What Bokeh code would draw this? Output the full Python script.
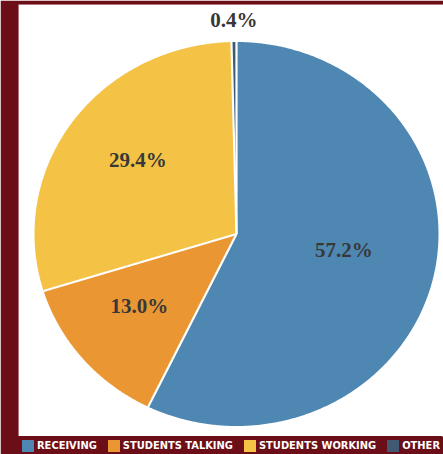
import numpy as np
from bokeh.plotting import figure
from bokeh.models import Range1d, Legend, LegendItem, ColumnDataSource
from bokeh.core.properties import value
from bokeh.embed import file_html
from bokeh.resources import INLINE

categories = ["RECEIVING", "STUDENTS TALKING", "STUDENTS WORKING", "OTHER"]
shares = [57.2, 13.0, 29.4, 0.4]
labels = ["57.2%", "13.0%", "29.4%", "0.4%"]
colors = ["#4e87b2", "#ea9733", "#f4c244", "#3f5a72"]

MAROON = "#6c0e17"
W, H = 443, 454
LEFT, TOP = 18, 4
LEG_H = 18

p = figure(width=W, height=H, output_backend="svg", toolbar_location=None,
           x_range=Range1d(LEFT, W), y_range=Range1d(0, H - TOP),
           min_border_left=LEFT, min_border_top=TOP, min_border_right=0, min_border_bottom=0,
           background_fill_color=MAROON, border_fill_color=MAROON, outline_line_color=None)
p.axis.visible = False
p.grid.visible = False

# white chart panel above the legend strip
p.quad(left=LEFT, right=W, bottom=LEG_H, top=H - TOP, fill_color="white", line_color=None)

# pie geometry (slightly wider than tall, as in the source image)
cx, cy, RX, RY = 236, 220.5, 202, 192

frac = np.array(shares) / sum(shares)
cum = np.concatenate([[0], np.cumsum(frac)])
start = np.pi / 2 - cum[:-1] * 2 * np.pi
end = np.pi / 2 - cum[1:] * 2 * np.pi
mid = (start + end) / 2

items = []
for i, cat in enumerate(categories):
    n = max(4, int(abs(end[i] - start[i]) * 120))
    t = np.linspace(start[i], end[i], n)
    xs = np.concatenate([[cx], cx + RX * np.cos(t)])
    ys = np.concatenate([[cy], cy + RY * np.sin(t)])
    r = p.patch(x=xs, y=ys, fill_color=colors[i], line_color=None)
    items.append(LegendItem(label=cat, renderers=[r]))

# white separators between slices
p.segment(x0=[cx] * len(start), y0=[cy] * len(start),
          x1=list(cx + RX * np.cos(start)), y1=list(cy + RY * np.sin(start)),
          line_color="white", line_width=2.2)

f = np.where(frac < 0.02, 1.08, 0.66 - 0.2 * frac)
lx = cx + f * RX * np.cos(mid)
ly = cy + f * RY * np.sin(mid)
src = ColumnDataSource(dict(x=lx, y=ly, t=labels))
p.text(x="x", y="y", text="t", source=src, text_align="center", text_baseline="middle",
       y_offset=-7,
       text_font=value("Liberation Serif"), text_font_style="bold", text_font_size="21px",
       text_color="#383838")

legend = Legend(items=items, orientation="horizontal", location=(0, -1),
                background_fill_color=MAROON, background_fill_alpha=1, border_line_alpha=0,
                label_text_color="white", label_text_font="DejaVu Sans Condensed, sans-serif",
                label_text_font_style="bold", label_text_font_size="11px",
                glyph_width=15, glyph_height=15, label_height=15, label_standoff=2,
                padding=2, margin=0, spacing=9)
p.add_layout(legend)

open("out.html", "w").write(file_html(p, INLINE))
